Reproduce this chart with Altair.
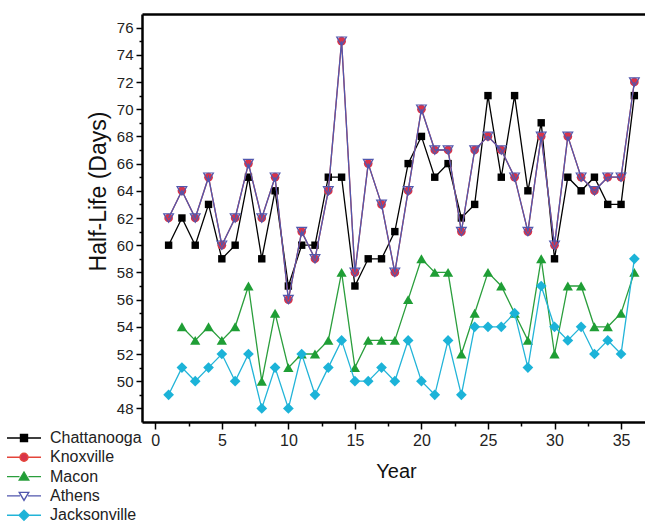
import altair as alt
import pandas as pd

# ---------------- data ----------------
years = list(range(1, 37))
macon_years = list(range(2, 37))

chattanooga = [60, 62, 60, 63, 59, 60, 65, 59, 64, 57,
               60, 60, 65, 65, 57, 59, 59, 61, 66, 68,
               65, 66, 62, 63, 71, 65, 71, 64, 69, 59,
               65, 64, 65, 63, 63, 71]
knoxville = [62, 64, 62, 65, 60, 62, 66, 62, 65, 56,
             61, 59, 64, 75, 58, 66, 63, 58, 64, 70,
             67, 67, 61, 67, 68, 67, 65, 61, 68, 60,
             68, 65, 64, 65, 65, 72]
macon = [54, 53, 54, 53, 54, 57, 50, 55, 51, 52,
         52, 53, 58, 51, 53, 53, 53, 56, 59, 58,
         58, 52, 55, 58, 57, 55, 53, 59, 52, 57,
         57, 54, 54, 55, 58]
athens = [62, 64, 62, 65, 60, 62, 66, 62, 65, 56,
          61, 59, 64, 75, 58, 66, 63, 58, 64, 70,
          67, 67, 61, 67, 68, 67, 65, 61, 68, 60,
          68, 65, 64, 65, 65, 72]
jacksonville = [49, 51, 50, 51, 52, 50, 52, 48, 51, 48,
                52, 49, 51, 53, 50, 50, 51, 50, 53, 50,
                49, 53, 49, 54, 54, 54, 55, 51, 57, 54,
                53, 54, 52, 53, 52, 59]

series_names = ["Chattanooga", "Knoxville", "Macon", "Athens", "Jacksonville"]
x_major_ticks = [0, 5, 10, 15, 20, 25, 30, 35]
x_minor_ticks = [2.5, 7.5, 12.5, 17.5, 22.5, 27.5, 32.5]
y_major_ticks = list(range(48, 77, 2))
y_minor_ticks = list(range(49, 77, 2))

# ---------------- styles ----------------
FONT = "Liberation Sans"
line_colors = ["#000000", "#e4453a", "#2a9e3c", "#5157ad", "#22b4d8"]
legend_fills = ["#000000", "#d8344a", "#1f9e35", "#ffffff", "#1cb3d8"]
legend_paths = [
    "M-3.4,0H-0.7M0.7,0H3.4M-0.7,-0.7H0.7V0.7H-0.7Z",
    "M-3.4,0H-0.8M0.8,0H3.4M0.8,0A0.8,0.8 0 1,1 -0.8,0A0.8,0.8 0 1,1 0.8,0Z",
    "M-3.4,0H-0.9M0.9,0H3.4M0,-0.9L0.95,0.7L-0.95,0.7Z",
    "M-3.4,0H-0.8M0.8,0H3.4M0,0.9L0.95,-0.7L-0.95,-0.7Z",
    "M-3.4,0H-1M1,0H3.4M0,-1L1,0L0,1L-1,0Z",
]

XS = alt.Scale(domain=[-1, 36.8], nice=False, zero=False)
YS = alt.Scale(domain=[47, 77], nice=False, zero=False)

x_major = alt.Axis(orient="bottom", values=x_major_ticks, title="Year", grid=False,
                   domainColor="black", domainWidth=2.5, tickColor="black", tickWidth=1.5,
                   tickSize=7, labelFont=FONT, labelFontSize=16, labelColor="#222",
                   labelPadding=3, labelFlush=False, labelOverlap=False,
                   titleFont=FONT, titleFontSize=20, titleFontWeight="normal",
                   titleColor="#111", titleX=254, titleY=49, titleBaseline="middle")
y_major = alt.Axis(orient="left", values=y_major_ticks, title="Half-Life (Days)", grid=False,
                   domainColor="black", domainWidth=2.5, tickColor="black", tickWidth=1.5,
                   tickSize=6, labelFont=FONT, labelFontSize=15, labelColor="#222",
                   labelPadding=3, labelFlush=False, labelOverlap=False,
                   titleFont=FONT, titleFontSize=23, titleFontWeight="normal",
                   titleColor="#111", titleX=-44, titleY=177, titleBaseline="middle",
                   titleAlign="center")
x_minor = alt.Axis(orient="bottom", values=x_minor_ticks, title=None, labels=False,
                   grid=False, domain=False, tickColor="black", tickWidth=1.5, tickSize=4)
y_minor = alt.Axis(orient="left", values=y_minor_ticks, title=None, labels=False,
                   grid=False, domain=False, tickColor="black", tickWidth=1.5, tickSize=3)
x_top = alt.Axis(orient="top", title=None, labels=False, ticks=False, grid=False,
                 domainColor="black", domainWidth=2.5)


def frame(xs, ys):
    return pd.DataFrame({"Year": xs, "HalfLife": ys})


def enc(xaxis=None, yaxis=None):
    return dict(
        x=alt.X("Year:Q", scale=XS, axis=xaxis),
        y=alt.Y("HalfLife:Q", scale=YS, axis=yaxis),
    )


layers = []
# Chattanooga
d = frame(years, chattanooga)
layers.append(alt.Chart(d).mark_line(color=line_colors[0], strokeWidth=1.3)
              .encode(**enc(x_major, y_major)))
layers.append(alt.Chart(d).mark_point(shape="square", filled=True, size=55, opacity=1,
                                      color=line_colors[0])
              .encode(**enc(x_minor, y_minor)))
# Knoxville
d = frame(years, knoxville)
layers.append(alt.Chart(d).mark_line(color=line_colors[1], strokeWidth=1.3)
              .encode(**enc(x_top, None)))
layers.append(alt.Chart(d).mark_point(shape="circle", filled=True, size=75, opacity=1,
                                      color=legend_fills[1])
              .encode(**enc()))
# Macon
d = frame(macon_years, macon)
layers.append(alt.Chart(d).mark_line(color=line_colors[2], strokeWidth=1.3)
              .encode(**enc()))
layers.append(alt.Chart(d).mark_point(shape="triangle-up", filled=True, size=105, opacity=1,
                                      color=legend_fills[2])
              .encode(**enc()))
# Athens
d = frame(years, athens)
layers.append(alt.Chart(d).mark_line(color=line_colors[3], strokeWidth=1.3)
              .encode(**enc()))
layers.append(alt.Chart(d).mark_point(shape="triangle-down", filled=False, size=95, opacity=1,
                                      stroke=line_colors[3], strokeWidth=1.2)
              .encode(**enc()))
# Jacksonville
d = frame(years, jacksonville)
layers.append(alt.Chart(d).mark_line(color=line_colors[4], strokeWidth=1.3)
              .encode(**enc()))
layers.append(alt.Chart(d).mark_point(shape="diamond", filled=True, size=115, opacity=1,
                                      color=legend_fills[4])
              .encode(**enc()))

# legend (built from the series names through real scales)
leg = dict(title=None, orient="none", legendX=-126, legendY=416, labelFont=FONT,
           labelFontSize=16, labelColor="#222", symbolSize=100, symbolStrokeWidth=1.4,
           labelOffset=18, rowPadding=3.3, padding=0)
legend_df = pd.DataFrame({"Series": series_names})
layers.append(
    alt.Chart(legend_df).transform_filter("false")
    .mark_point(filled=True, opacity=1)
    .encode(
        shape=alt.Shape("Series:N", sort=None,
                        scale=alt.Scale(domain=series_names, range=legend_paths),
                        legend=alt.Legend(**leg)),
        fill=alt.Fill("Series:N", sort=None,
                      scale=alt.Scale(domain=series_names, range=legend_fills),
                      legend=alt.Legend(**leg)),
        stroke=alt.Stroke("Series:N", sort=None,
                          scale=alt.Scale(domain=series_names, range=line_colors),
                          legend=alt.Legend(**leg)),
    )
)

chart = (
    alt.layer(*layers)
    .resolve_axis(x="independent", y="independent")
    .properties(width=503, height=408,
                autosize=alt.AutoSizeParams(type="none"),
                padding={"left": 142, "top": 14, "right": 0, "bottom": 101})
    .configure_view(strokeWidth=0)
    .configure(background="white")
)

chart.save("out.html", embed_options={"renderer": "svg", "actions": False})
